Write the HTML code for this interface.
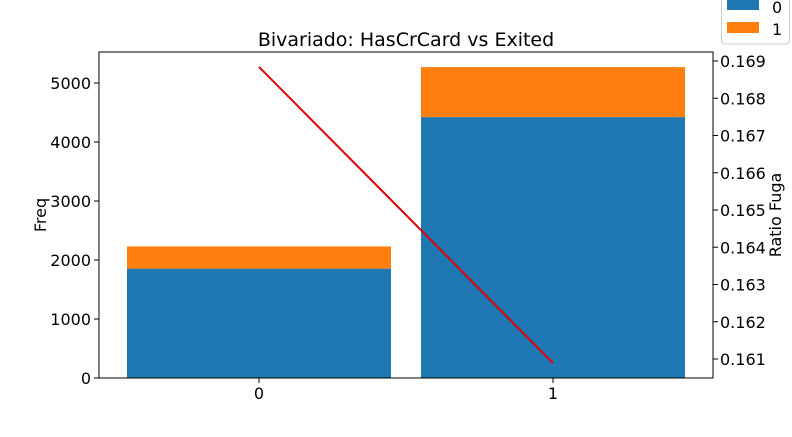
<!DOCTYPE html>
<html><head><meta charset="utf-8"><style>
body{margin:0;background:#fff;}
svg text{font-family:"DejaVu Sans","Liberation Sans",sans-serif;fill:#000;}
</style></head><body>
<svg id="chart" width="792" height="432" xmlns="http://www.w3.org/2000/svg"></svg>
<script>
const categories=["0","1"];
const notExited=[1854,4422];
const exited=[376,848];
const ratio=[0.16884,0.16089];
const leftTicks=[0,1000,2000,3000,4000,5000];
const rightTicks=[0.161,0.162,0.163,0.164,0.165,0.166,0.167,0.168,0.169];

const svg=document.getElementById('chart');
const NS='http://www.w3.org/2000/svg';
function mk(tag,attrs,parent){const e=document.createElementNS(NS,tag);for(const k in attrs)e.setAttribute(k,attrs[k]);(parent||svg).appendChild(e);return e;}
const L=99,R=713,T=52,B=378;
const xS=i=>259+(i)*294;
const yL=v=>378-v*0.059;
const yR=v=>61+(0.169-v)*37250;
const bw=264;

categories.forEach((c,i)=>{
  const b1=mk('rect',{x:xS(i)-bw/2,y:yL(notExited[i]),width:bw,height:yL(0)-yL(notExited[i]),fill:'#1f77b4'});
  
  
  const b2=mk('rect',{x:xS(i)-bw/2,y:yL(notExited[i]+exited[i]),width:bw,height:yL(notExited[i])-yL(notExited[i]+exited[i]),fill:'#ff7f0e'});
  
  
  mk('line',{x1:xS(i),x2:xS(i),y1:B,y2:B+5,stroke:'#000'});
  const t=mk('text',{x:xS(i),y:B+21,'font-size':16,'text-anchor':'middle'});t.textContent=c;
  
  
});
const pts=ratio.map((v,i)=>xS(i)+','+yR(v)).join(' ');
const ln=mk('polyline',{points:pts,fill:'none',stroke:'#e00000','stroke-width':2});



const fr=mk('rect',{x:L,y:T,width:R-L,height:B-T,fill:'none',stroke:'#000','stroke-width':1});



leftTicks.forEach(v=>{
  mk('line',{x1:L-5,x2:L,y1:yL(v),y2:yL(v),stroke:'#000'});
  const t=mk('text',{x:L-8,y:yL(v)+6,'font-size':16,'text-anchor':'end'});t.textContent=v;
  
  
});
rightTicks.forEach(v=>{
  mk('line',{x1:R,x2:R+5,y1:yR(v),y2:yR(v),stroke:'#000'});
  const t=mk('text',{x:R+7,y:yR(v)+6,'font-size':16});t.textContent=v.toFixed(3);
  
  
});
let t=mk('text',{x:406,y:46,'font-size':19,'text-anchor':'middle'});t.textContent='Bivariado: HasCrCard vs Exited';


t=mk('text',{x:46,y:215,'font-size':16,'text-anchor':'middle',transform:'rotate(-90 46 215)'});t.textContent='Freq';


t=mk('text',{x:781,y:215,'font-size':16,'text-anchor':'middle',transform:'rotate(-90 781 215)'});t.textContent='Ratio Fuga';



const lg=mk('g',{});


mk('rect',{x:721.5,y:-6,width:68,height:50,rx:3,fill:'#fff',stroke:'#ccc'},lg);
mk('rect',{x:727,y:-1,width:32,height:11,fill:'#1f77b4'},lg);
mk('rect',{x:727,y:22,width:32,height:11,fill:'#ff7f0e'},lg);
t=mk('text',{x:772,y:13,'font-size':16},lg);t.textContent='0';
t=mk('text',{x:772,y:35,'font-size':16},lg);t.textContent='1';
</script>
</body></html>
